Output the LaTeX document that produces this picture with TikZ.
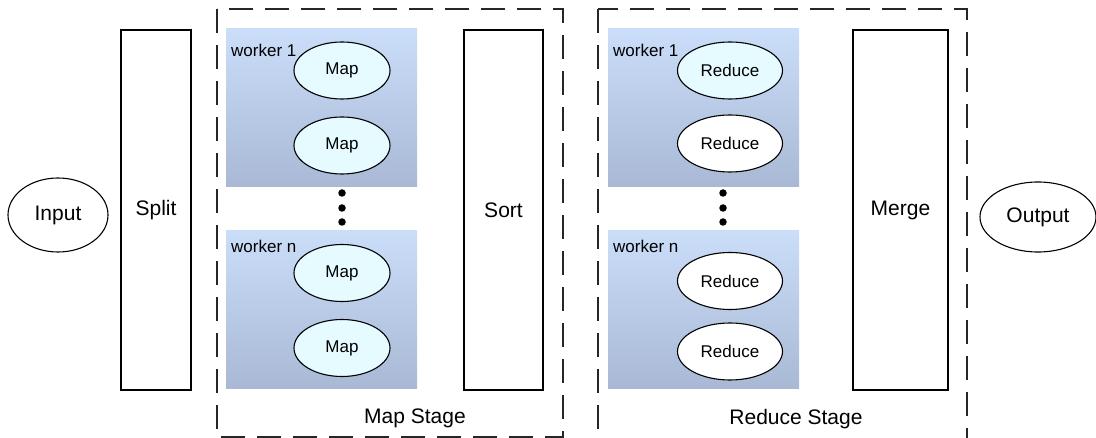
\documentclass[tikz,border=0pt]{standalone}
\usepackage{fontspec}
\setmainfont{Liberation Sans}
\usetikzlibrary{shapes.geometric}

\definecolor{wtop}{HTML}{CADDF9}
\definecolor{wbot}{HTML}{A9B9D5}
\definecolor{taskfill}{HTML}{E6FBFF}

\tikzset{
  big/.style={font=\fontsize{21}{25}\selectfont},
  small/.style={font=\fontsize{17}{20}\selectfont},
  bar/.style={draw, line width=1.1pt, minimum width=70pt, minimum height=360pt, inner sep=0pt, big},
  endpoint/.style={draw, line width=1.1pt, ellipse, minimum height=74pt, inner sep=0pt, big},
  stagebox/.style={draw=black!85, line width=1.2pt, dash pattern=on 24pt off 12pt},
  worker/.style={minimum width=191pt, minimum height=158pt, inner sep=0pt,
                 top color=wtop, bottom color=wbot, draw=none},
  task/.style={draw, line width=1.1pt, ellipse, minimum height=57pt, inner sep=0pt, small},
  maptask/.style={task, fill=taskfill, minimum width=96pt},
  redtask/.style={task, fill=white, minimum width=105pt},
  wlabel/.style={small, anchor=base west, inner sep=0pt},
  dot/.style={circle, fill=black, minimum size=7.5pt, inner sep=0pt},
  stagelabel/.style={big, anchor=base, inner sep=0pt}
}

\begin{document}
\begin{tikzpicture}[x=1pt, y=-1pt]
  \useasboundingbox (0,0) rectangle (1096,438);
  \clip (0,0) rectangle (1096,438);

  % stage frames
  \draw[stagebox] (217,9) rectangle (563,437);
  \draw[stagebox] (598,9) rectangle (967,460);

  % input / output
  \node[endpoint, minimum width=100pt] (input) at (58,215) {Input};
  \node[endpoint, minimum width=116pt, minimum height=70pt] (output) at (1038,217) {Output};

  % split / sort / merge columns
  \node[bar] (split) at (156,210) {Split};
  \node[bar, minimum width=79pt] (sort) at (503.5,210) {Sort};
  \node[bar, minimum width=95pt] (merge) at (900.5,210) {Merge};

  % map workers
  \node[worker] (mw1) at (321.5,108) {};
  \node[worker] (mwn) at (321.5,309.5) {};
  \node[wlabel] (mw1l) at (231,57) {worker 1};
  \node[wlabel] (mwnl) at (231,253) {worker n};
  \node[maptask] (m1) at (342,70.5) {Map};
  \node[maptask] (m2) at (342,145.5) {Map};
  \node[maptask] (m3) at (342,273) {Map};
  \node[maptask] (m4) at (342,348) {Map};
  \node[dot] (md1) at (342,193) {};
  \node[dot] (md2) at (342,208) {};
  \node[dot] (md3) at (342,222) {};
  \node[stagelabel] (mapst) at (415,424) {Map Stage};

  % reduce workers
  \node[worker] (rw1) at (703.5,108) {};
  \node[worker] (rwn) at (703.5,309.5) {};
  \node[wlabel] (rw1l) at (613,57) {worker 1};
  \node[wlabel] (rwnl) at (613,253) {worker n};
  \node[redtask, fill=taskfill] (r1) at (730,70.5) {Reduce};
  \node[redtask] (r2) at (730,143.5) {Reduce};
  \node[redtask] (r3) at (730,281) {Reduce};
  \node[redtask] (r4) at (730,351.5) {Reduce};
  \node[dot] (rd1) at (723,193) {};
  \node[dot] (rd2) at (723,208) {};
  \node[dot] (rd3) at (723,222) {};
  \node[stagelabel] (redst) at (796,425) {Reduce Stage};
\end{tikzpicture}
\end{document}
